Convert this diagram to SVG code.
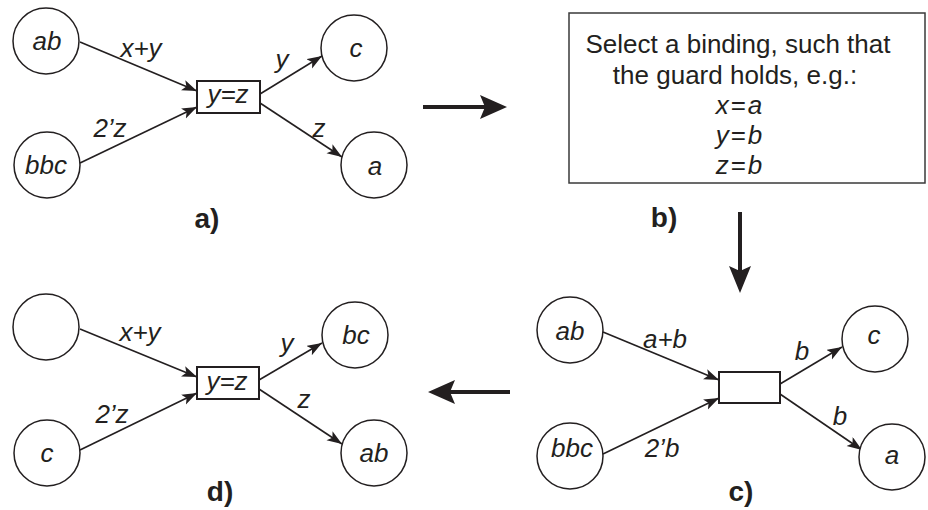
<svg xmlns="http://www.w3.org/2000/svg" width="928" height="510" viewBox="0 0 928 510">
  <style>
    .place { fill: #ffffff; stroke: #231f20; stroke-width: 1.5; }
    .trans { fill: #ffffff; stroke: #231f20; stroke-width: 2; }
    .arc { fill: none; stroke: #231f20; stroke-width: 1.6; marker-end: url(#head); }
    .step { fill: none; stroke: #231f20; stroke-width: 4; }
    .stephead { fill: #231f20; }
    text { font-family: "Liberation Sans", Arial, sans-serif; font-size: 26px; fill: #231f20; }
    .m { font-style: italic; text-anchor: middle; }
    .note { text-anchor: middle; }
    .cap { font-weight: bold; font-size: 28px; text-anchor: middle; }
    .panel { fill: #ffffff; stroke: #3a3a3a; stroke-width: 1.5; }
  </style>
  <defs>
    <marker id="head" markerUnits="userSpaceOnUse" markerWidth="16" markerHeight="12" refX="15" refY="5.5" orient="auto">
      <path d="M0,0 L15,5.5 L0,11 L3.5,5.5 Z" fill="#231f20"/>
    </marker>
  </defs>

  <!-- connectors: arcs of the nets and the arrows between the steps -->
  <g id="connectors">
    <!-- net a) -->
    <line class="arc" x1="80" y1="42" x2="197" y2="91"/>
    <line class="arc" x1="80" y1="163" x2="197" y2="107"/>
    <line class="arc" x1="260" y1="94" x2="322" y2="56"/>
    <line class="arc" x1="260" y1="103" x2="342" y2="157"/>
    <!-- net c) -->
    <line class="arc" x1="603" y1="332" x2="719" y2="380"/>
    <line class="arc" x1="603" y1="454" x2="719" y2="398"/>
    <line class="arc" x1="780" y1="384" x2="842" y2="347"/>
    <line class="arc" x1="780" y1="394" x2="862" y2="450"/>
    <!-- net d) -->
    <line class="arc" x1="80" y1="329" x2="197" y2="377"/>
    <line class="arc" x1="80" y1="450" x2="197" y2="393"/>
    <line class="arc" x1="259" y1="380" x2="322" y2="343"/>
    <line class="arc" x1="259" y1="389" x2="342" y2="444"/>
    <!-- step arrows -->
    <line class="step" x1="423" y1="107" x2="486" y2="107"/>
    <polygon class="stephead" points="507,107 480,95 485,107 480,119"/>
    <line class="step" x1="740" y1="212" x2="740" y2="272"/>
    <polygon class="stephead" points="740,293 729,266 740,271 751,266"/>
    <line class="step" x1="510" y1="392" x2="449" y2="392"/>
    <polygon class="stephead" points="428,392 455,380 450,392 455,404"/>
  </g>

  <!-- a) initial marking -->
  <g id="a-p1"><circle class="place" cx="46" cy="41" r="33"/><text class="m" x="47" y="50">ab</text></g>
  <g id="a-p2"><circle class="place" cx="47" cy="165" r="33"/><text class="m" x="46" y="174">bbc</text></g>
  <g id="a-t"><rect class="trans" x="197" y="81" width="63" height="32"/><text class="m" x="228" y="103">y=z</text></g>
  <g id="a-p3"><circle class="place" cx="354" cy="48" r="33"/><text class="m" x="356" y="57">c</text></g>
  <g id="a-p4"><circle class="place" cx="374" cy="165" r="33"/><text class="m" x="375" y="175">a</text></g>
  <g id="a-labels">
    <text class="m" x="141" y="57">x+y</text>
    <text class="m" x="110" y="137">2’z</text>
    <text class="m" x="282" y="68">y</text>
    <text class="m" x="319" y="137">z</text>
    <text class="cap" x="207" y="228">a)</text>
  </g>

  <!-- b) binding -->
  <g id="b-note">
    <rect class="panel" x="569" y="13" width="356" height="170"/>
    <text class="note" x="738" y="53">Select a binding, such that</text>
    <text class="note" x="735" y="84">the guard holds, e.g.:</text>
    <text class="note" x="739" y="114"><tspan font-style="italic">x</tspan><tspan dx="2">=</tspan><tspan dx="2" font-style="italic">a</tspan></text>
    <text class="note" x="739" y="144"><tspan font-style="italic">y</tspan><tspan dx="2">=</tspan><tspan dx="2" font-style="italic">b</tspan></text>
    <text class="note" x="739" y="174"><tspan font-style="italic">z</tspan><tspan dx="2">=</tspan><tspan dx="2" font-style="italic">b</tspan></text>
    <text class="cap" x="664" y="227">b)</text>
  </g>

  <!-- c) bound arcs -->
  <g id="c-p1"><circle class="place" cx="570" cy="330" r="33"/><text class="m" x="570" y="340">ab</text></g>
  <g id="c-p2"><circle class="place" cx="570" cy="456" r="33"/><text class="m" x="572" y="457">bbc</text></g>
  <g id="c-t"><rect class="trans" x="719" y="372" width="61" height="31"/></g>
  <g id="c-p3"><circle class="place" cx="875" cy="339" r="33"/><text class="m" x="874" y="344">c</text></g>
  <g id="c-p4"><circle class="place" cx="892" cy="457" r="33"/><text class="m" x="892" y="464">a</text></g>
  <g id="c-labels">
    <text class="m" x="665" y="348">a+b</text>
    <text class="m" x="662" y="457">2’b</text>
    <text class="m" x="802" y="360">b</text>
    <text class="m" x="840" y="425">b</text>
    <text class="cap" x="741" y="501">c)</text>
  </g>

  <!-- d) marking after firing -->
  <g id="d-p1"><circle class="place" cx="46" cy="327" r="33"/></g>
  <g id="d-p2"><circle class="place" cx="47" cy="453" r="33"/><text class="m" x="47" y="462">c</text></g>
  <g id="d-t"><rect class="trans" x="197" y="367" width="62" height="32"/><text class="m" x="227" y="390">y=z</text></g>
  <g id="d-p3"><circle class="place" cx="355" cy="335" r="33"/><text class="m" x="356" y="344">bc</text></g>
  <g id="d-p4"><circle class="place" cx="374" cy="453" r="33"/><text class="m" x="374" y="462">ab</text></g>
  <g id="d-labels">
    <text class="m" x="140" y="341">x+y</text>
    <text class="m" x="112" y="423">2’z</text>
    <text class="m" x="287" y="352">y</text>
    <text class="m" x="304" y="408">z</text>
    <text class="cap" x="220" y="501">d)</text>
  </g>
</svg>
